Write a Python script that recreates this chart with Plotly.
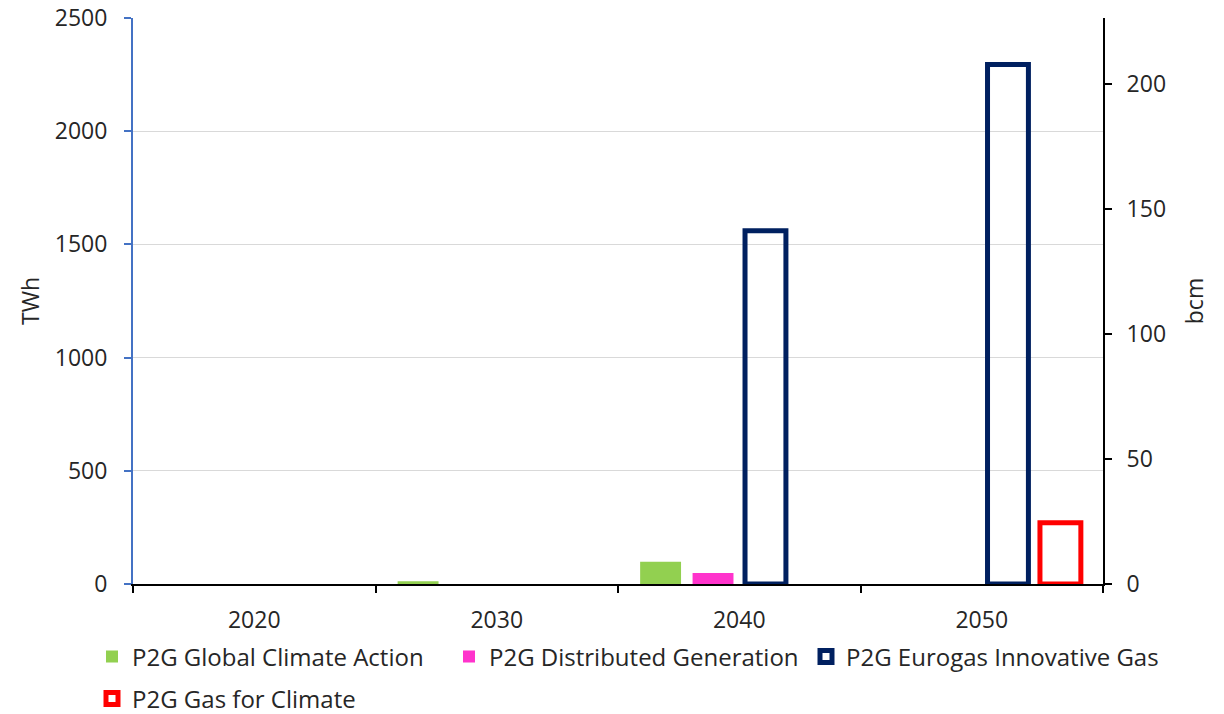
import plotly.graph_objects as go

# Power-to-gas volumes by scenario (TWh); None where a scenario has no value
years = ["2020", "2030", "2040", "2050"]
global_climate_action = [None, 12, 98, None]
distributed_generation = [None, None, 49, None]
eurogas_innovative_gas = [None, None, 1560, 2295]
gas_for_climate = [None, None, None, 270]

TWH_PER_BCM = 11.04
TWH_MAX = 2500

FONT = "Open Sans"
TEXT = "#262626"
TICK_SIZE = 23
LEGEND_SIZE = 24

fig = go.Figure()

fig.add_trace(go.Bar(
    name="P2G Global Climate Action", x=years, y=global_climate_action,
    marker=dict(color="#92D050", line=dict(width=0)), legend="legend",
))
fig.add_trace(go.Bar(
    name="P2G Distributed Generation", x=years, y=distributed_generation,
    marker=dict(color="#FF33CC", line=dict(width=0)), legend="legend",
))
fig.add_trace(go.Bar(
    name="P2G Eurogas Innovative Gas", x=years, y=eurogas_innovative_gas,
    marker=dict(color="rgba(255,255,255,0)", line=dict(color="#002060", width=5)),
    legend="legend",
))
fig.add_trace(go.Bar(
    name="P2G Gas for Climate", x=years, y=gas_for_climate,
    marker=dict(color="rgba(255,255,255,0)", line=dict(color="#FF0000", width=5)),
    legend="legend2",
))

# invisible trace to activate the bcm axis on the right
fig.add_trace(go.Scatter(x=years, y=[None] * len(years), yaxis="y2",
                         showlegend=False, hoverinfo="skip"))

# plot area in pixels: x 133..1103, y 18..584
legend_common = dict(
    orientation="h", xref="paper", yref="paper",
    x=(92 - 133) / 970, xanchor="left", yanchor="middle",
    entrywidth=312, entrywidthmode="pixels",
    font=dict(family=FONT, size=LEGEND_SIZE, color=TEXT),
    itemwidth=30, bgcolor="rgba(0,0,0,0)",
)

fig.update_layout(
    width=1224, height=714,
    margin=dict(l=133, r=121, t=18, b=130, autoexpand=False),
    paper_bgcolor="white", plot_bgcolor="white",
    barmode="group", bargap=0.135, bargroupgap=0.22,
    font=dict(family=FONT, size=TICK_SIZE, color=TEXT),
    xaxis=dict(
        type="category", tickson="boundaries",
        ticks="outside", ticklen=7, tickcolor="black", tickwidth=2,
        showline=True, linecolor="black", linewidth=2,
        showgrid=False, tickfont=dict(size=TICK_SIZE, color=TEXT),
        ticklabelstandoff=14,
    ),
    yaxis=dict(
        title=dict(text="TWh", font=dict(size=TICK_SIZE, color=TEXT), standoff=9),
        range=[0, TWH_MAX], dtick=500,
        showline=True, linecolor="#4472C4", linewidth=2,
        ticks="outside", ticklen=7, tickcolor="#4472C4", tickwidth=2,
        showgrid=True, gridcolor="#D9D9D9", gridwidth=1,
        zeroline=False, tickfont=dict(size=TICK_SIZE, color=TEXT),
        ticklabelstandoff=12,
    ),
    yaxis2=dict(
        title=dict(text="bcm", font=dict(size=TICK_SIZE, color=TEXT), standoff=22),
        overlaying="y", side="right",
        range=[0, TWH_MAX / TWH_PER_BCM], dtick=50,
        showline=True, linecolor="black", linewidth=2,
        ticks="outside", ticklen=7, tickcolor="black", tickwidth=2,
        showgrid=False, zeroline=False, tickfont=dict(size=TICK_SIZE, color=TEXT),
        ticklabelstandoff=10,
    ),
    legend=dict(legend_common, y=(584 - 657) / 566),
    legend2=dict(legend_common, y=(584 - 699) / 566),
    showlegend=True,
)

fig.write_html("out.html")
